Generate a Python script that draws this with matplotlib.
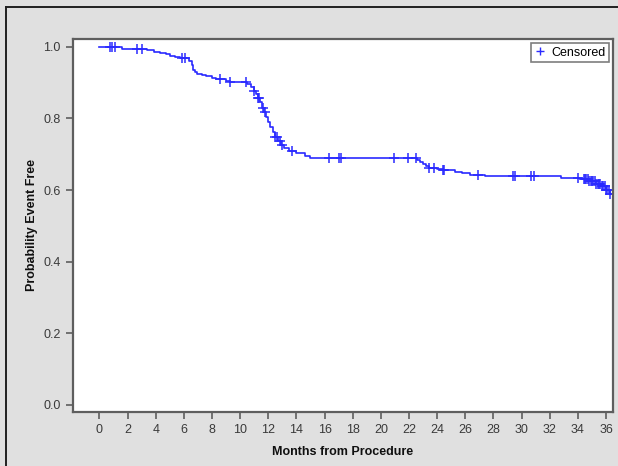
import numpy as np
import matplotlib.pyplot as plt
from matplotlib.lines import Line2D

# Kaplan-Meier estimate (months, survival)
event_months = [0, 1.6, 3.4, 3.9, 4.3, 4.7, 5.0, 5.4, 5.7, 6.4, 6.55, 6.65, 6.8, 6.9,
                7.3, 7.6, 8.0, 8.3, 9.0, 9.3, 10.5, 10.8, 10.95, 11.1, 11.25, 11.4,
                11.55, 11.7, 11.85, 12.0, 12.15, 12.3, 12.5, 12.7, 12.9, 13.1, 13.5,
                14.0, 14.6, 15.0, 22.6, 22.8, 23.0, 23.2, 23.4, 24.0, 24.4, 25.3,
                25.8, 26.3, 27.4, 32.8, 34.3, 34.8, 35.3, 35.7, 36.0, 36.3, 36.6]
survival = [1.0, 0.995, 0.990, 0.987, 0.983, 0.979, 0.975, 0.972, 0.968, 0.960, 0.948,
            0.936, 0.930, 0.925, 0.921, 0.918, 0.913, 0.909, 0.905, 0.902, 0.897,
            0.888, 0.878, 0.868, 0.857, 0.845, 0.830, 0.818, 0.805, 0.790, 0.775,
            0.762, 0.748, 0.736, 0.726, 0.718, 0.710, 0.703, 0.696, 0.690, 0.684,
            0.678, 0.672, 0.666, 0.662, 0.658, 0.655, 0.651, 0.647, 0.643, 0.638,
            0.635, 0.630, 0.625, 0.618, 0.610, 0.600, 0.590, 0.590]

censored_months = [0.76, 0.92, 1.1, 2.65, 3.0, 5.85, 6.1, 8.6, 9.3, 10.45, 11.0, 11.3,
                   11.35, 11.6, 11.75, 12.5, 12.6, 12.8, 13.0, 13.7, 16.3, 17.0, 17.2,
                   20.9, 21.9, 22.5, 23.4, 23.8, 24.4, 24.5, 26.9, 29.4, 29.5, 30.7,
                   30.9, 34.0, 34.4, 34.5, 34.6, 34.7, 34.8, 34.9, 35.0, 35.1, 35.2,
                   35.3, 35.4, 35.5, 35.6, 35.7, 35.8, 35.9, 36.0, 36.1, 36.2, 36.3]

x_ticks = list(range(0, 37, 2))
y_ticks = [0.0, 0.2, 0.4, 0.6, 0.8, 1.0]

plt.rcParams['font.family'] = ['Liberation Sans', 'DejaVu Sans']

BLUE = "#2a2aff"
FRAME = "#5e5e5e"

fig = plt.figure(figsize=(6.18, 4.66), dpi=100, facecolor="#e0e0e0")
ax = fig.add_axes([0.1176, 0.1159, 0.8744, 0.8004])

ax.plot(event_months, survival, drawstyle="steps-post", color=BLUE, lw=1.2)

# censor marks sit on the curve
idx = np.searchsorted(event_months, censored_months, side="right") - 1
cens_y = np.array(survival)[idx]
ax.plot(censored_months, cens_y, ls="none", marker="+", ms=7, mew=1.1, color=BLUE)

ax.set_xlim(-1.9, 36.5)
ax.set_ylim(-0.02, 1.022)
ax.set_xticks(x_ticks)
ax.set_yticks(y_ticks)
ax.set_yticklabels([f"{v:.1f}" for v in y_ticks])
ax.tick_params(colors=FRAME, labelcolor="#3a3a3a", labelsize=9, length=5, width=1.2)
for sp in ax.spines.values():
    sp.set_color(FRAME)
    sp.set_linewidth(1.6)

ax.set_xlabel("Months from Procedure", fontsize=9, fontweight="bold", color="#101010", labelpad=7)
ax.set_ylabel("Probability Event Free", fontsize=9, fontweight="bold", color="#101010", labelpad=4)

handle = Line2D([], [], ls="none", marker="+", ms=6, mew=1.0, color=BLUE)
leg = ax.legend([handle], ["Censored"], loc="upper right", fontsize=9, fancybox=False,
                handlelength=0.8, handletextpad=0.5, borderpad=0.3, borderaxespad=0.3,
                edgecolor=FRAME)
leg.get_frame().set_linewidth(1.2)

# partial outer border of the screenshot
fig.add_artist(Line2D([0.0105, 0.0105], [0, 0.985], color="#202020", lw=1.4))
fig.add_artist(Line2D([0.0105, 1.0], [0.985, 0.985], color="#202020", lw=1.4))

fig.savefig("out.png", dpi=100, facecolor=fig.get_facecolor())
